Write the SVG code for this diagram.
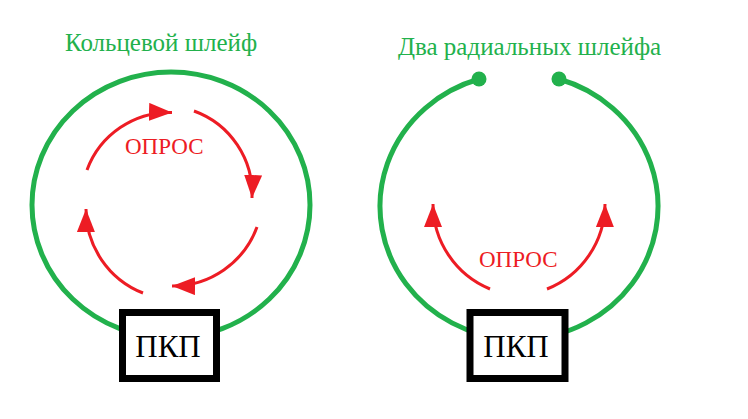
<svg xmlns="http://www.w3.org/2000/svg" width="748" height="419" viewBox="0 0 748 419">
<style>
.loop{fill:none;stroke:#22B14C;stroke-width:5}
.dot{fill:#22B14C}
.poll{fill:none;stroke:#ED1C24;stroke-width:3}
.box{fill:#fff;stroke:#000;stroke-width:7}
.title{font-family:"Liberation Serif","Times New Roman",serif;font-size:25px;fill:#22B14C}
.opros{font-family:"Liberation Serif","Times New Roman",serif;font-size:23px;fill:#ED1C24}
.pkp{font-family:"Liberation Serif","Times New Roman",serif;font-size:31px;fill:#000;text-anchor:middle}
</style>
<defs>
<marker id="ah" markerUnits="userSpaceOnUse" markerWidth="24" markerHeight="18" refX="23" refY="9" orient="auto">
<path d="M0,0 L23,9 L0,18 Z" fill="#ED1C24"/>
</marker>
</defs>
<rect width="748" height="419" fill="#fff"/>
<g id="connectors">
<ellipse class="loop" cx="171" cy="205" rx="139" ry="133"/>
<path class="loop" d="M559,79 A139,133 0 1 1 479,79"/>
<circle class="dot" cx="479" cy="79" r="7.5"/>
<circle class="dot" cx="559" cy="79" r="7.5"/>
<path class="poll" marker-end="url(#ah)" d="M87,170 A88,88 0 0 1 172,112.5"/>
<path class="poll" marker-end="url(#ah)" d="M194,111 A88,88 0 0 1 252,198"/>
<path class="poll" marker-end="url(#ah)" d="M257,227 A90,90 0 0 1 172,286"/>
<path class="poll" marker-end="url(#ah)" d="M143,293 A90,90 0 0 1 86,209"/>
<path class="poll" marker-end="url(#ah)" d="M490,289 A92,92 0 0 1 433,204"/>
<path class="poll" marker-end="url(#ah)" d="M547,289 A92,92 0 0 0 605,204"/>
</g>
<g id="title-left"><text class="title" x="65" y="51">Кольцевой шлейф</text></g>
<g id="title-right"><text class="title" x="398" y="55">Два радиальных шлейфа</text></g>
<g id="opros-left"><text class="opros" x="125" y="154">ОПРОС</text></g>
<g id="opros-right"><text class="opros" x="479" y="267">ОПРОС</text></g>
<g id="pkp-left">
<rect class="box" x="122.5" y="312.5" width="94" height="66"/>
<text class="pkp" x="168" y="357">ПКП</text>
</g>
<g id="pkp-right">
<rect class="box" x="470" y="312.5" width="95" height="66"/>
<text class="pkp" x="516" y="357">ПКП</text>
</g>
</svg>
